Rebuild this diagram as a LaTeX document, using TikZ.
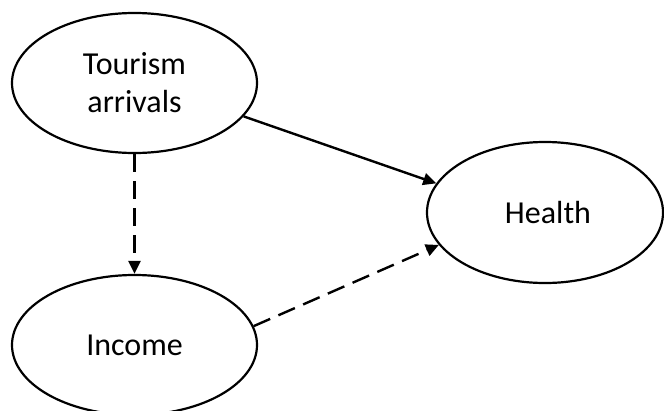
\documentclass[tikz,border=0pt]{standalone}
\usepackage{fontspec}
\setmainfont{Carlito}
\usetikzlibrary{shapes.geometric,arrows.meta}
\begin{document}
\begin{tikzpicture}[x=1pt,y=-1pt,
  var/.style={ellipse,draw,line width=2.2pt,inner sep=0pt,minimum width=245pt,minimum height=140pt,align=center,font=\fontsize{32}{38}\selectfont},
  link/.style={line width=2.4pt,-{Triangle[length=13pt,width=12pt]}},
  dlink/.style={link,dash pattern=on 18pt off 9pt}]
\useasboundingbox (0,0) rectangle (664,410);
\node[var] (T) at (134.5,83) {Tourism\\arrivals};
\node[var,minimum width=236pt,minimum height=141pt] (H) at (545,212.5) {\hspace*{6pt}Health};
\node[var] (I) at (134.5,345) {Income};
\draw[link] (T.-17.5) -- (H.165);
\draw[dlink] (T.south) -- (I.north);
\draw[dlink] (I.9.7) -- (H.197.6);
\end{tikzpicture}
\end{document}
